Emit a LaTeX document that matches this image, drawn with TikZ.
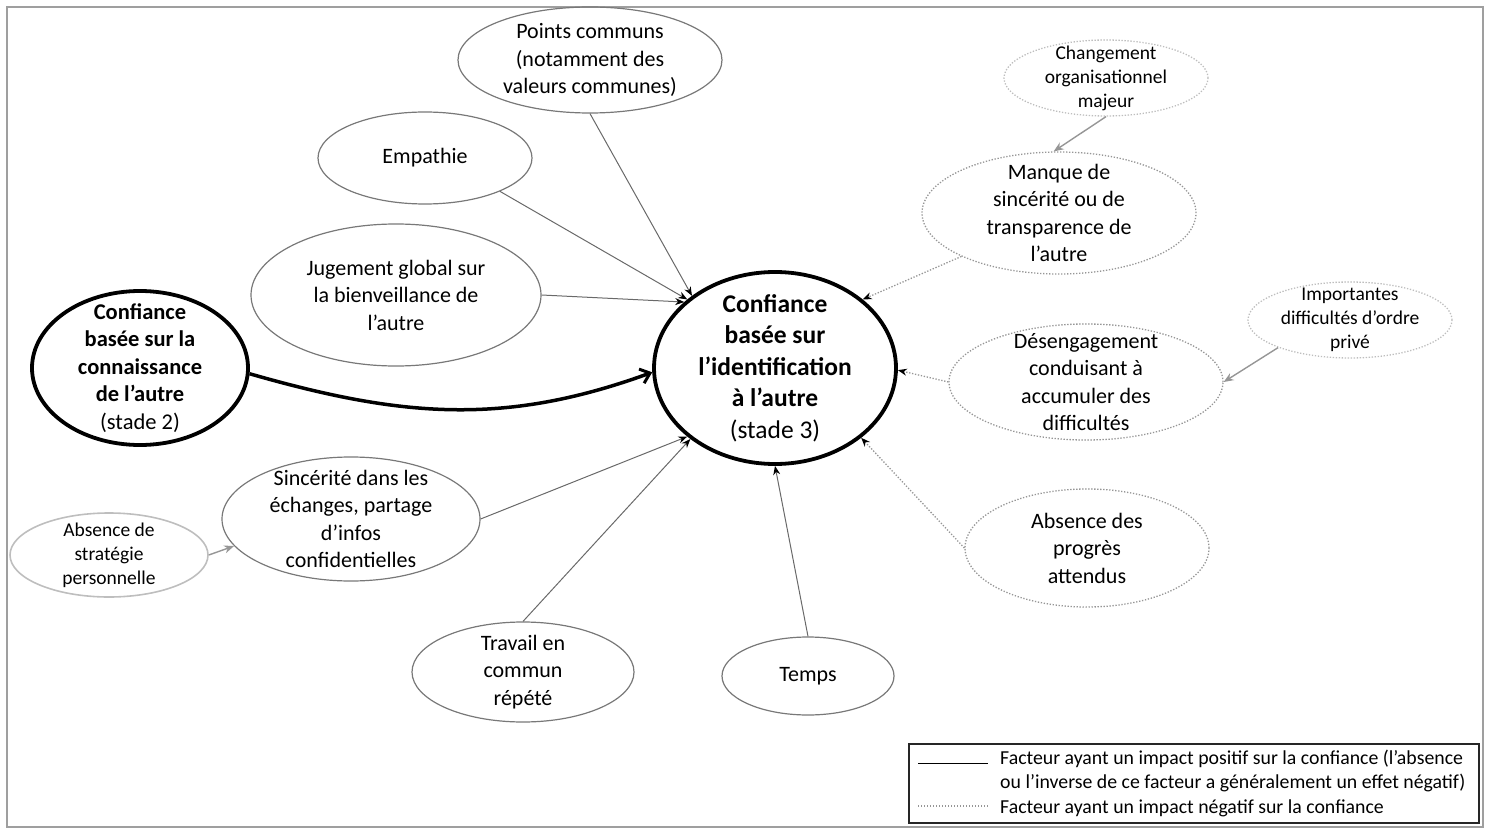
\documentclass[tikz,border=0pt]{standalone}
\usepackage{fontspec}
\setmainfont{Carlito}
\usetikzlibrary{shapes.geometric,arrows.meta}
\newcommand\fmed{\fontsize{22}{27.5}\selectfont}
\newcommand\fbig{\fontsize{25.5}{31.5}\selectfont}
\newcommand\fstwo{\fontsize{22.5}{27.5}\selectfont}
\newcommand\fsml{\fontsize{19.5}{24}\selectfont}
\newcommand\fleg{\fontsize{19.8}{24.5}\selectfont}
\definecolor{posgray}{RGB}{120,120,120}
\definecolor{linegray}{RGB}{105,105,105}
\definecolor{neggray}{RGB}{150,150,150}
\definecolor{lightgray2}{RGB}{190,190,190}
\begin{document}
\begin{tikzpicture}[x=1pt,y=-1pt,
  ell/.style={ellipse, inner sep=-60pt, align=center, text=black, font=\fmed},
  es/.style 2 args={minimum width=#1pt, minimum height=#2pt},
  posell/.style={ell, draw=posgray, line width=1.2pt},
  strongell/.style={ell, draw=black, line width=3.8pt},
  negell/.style={ell, draw=neggray, line width=1.3pt, dash pattern=on 1.3pt off 1.7pt},
  neglight/.style={ell, draw=lightgray2, line width=1.3pt, dash pattern=on 1.3pt off 1.7pt, font=\fsml},
  lightell/.style={ell, draw=lightgray2, line width=1.6pt, font=\fsml},
  posline/.style={draw=linegray, line width=1pt, -{Stealth[length=9pt,width=7pt,black]}},
  negline/.style={draw=neggray, line width=1.3pt, dash pattern=on 1.3pt off 1.7pt, -{Stealth[length=9pt,width=7pt,black]}},
  secline/.style={draw=neggray, line width=1.4pt, -{Stealth[length=10pt,width=8pt,neggray]}},
  thickline/.style={draw=black, line width=3.5pt, -{Straight Barb[length=9pt,width=15pt,line width=3pt]}},
  legtext/.style={anchor=base west, inner sep=0pt, font=\fleg, text=black}
]
\useasboundingbox (0,0) rectangle (1488,829);
\draw[gray!75, line width=2pt] (7,7) rectangle (1483,827);

% positive factors
\node[posell, es={264}{106}] (points) at (590,60) {Points communs\\(notamment des\\valeurs communes)};
\node[posell, es={214}{92}] (empathie) at (425,158) {Empathie};
\node[posell, es={290}{142}] (jugement) at (396,295) {Jugement global sur\\la bienveillance de\\l’autre};
\node[posell, es={258}{124}] (sincerite) at (351,519) {Sincérité dans les\\échanges, partage\\d’infos\\confidentielles};
\node[posell, es={222}{100}] (travail) at (523,672) {Travail en\\commun\\répété};
\node[posell, es={172}{78}] (temps) at (808,676) {Temps};
\node[lightell, es={198}{84}] (strategie) at (109,555) {Absence de\\stratégie\\personnelle};

% stages
\node[strongell, es={216}{154}, font=\fstwo] (stade2) at (140,368) {\textbf{Confiance}\\\textbf{basée sur la}\\\textbf{connaissance}\\\textbf{de l’autre}\\(stade 2)};
\node[strongell, es={242}{192}, font=\fbig] (stade3) at (775,368) {\textbf{Confiance}\\\textbf{basée sur}\\\textbf{l’identification}\\\textbf{à l’autre}\\(stade 3)};

% negative factors
\node[neglight, es={204}{76}] (changement) at (1106,78) {Changement\\organisationnel\\majeur};
\node[negell, es={274}{122}] (manque) at (1059,213) {Manque de\\sincérité ou de\\transparence de\\l’autre};
\node[neglight, es={204}{76}] (importantes) at (1350,320) {Importantes\\difficultés d’ordre\\privé};
\node[negell, es={274}{116}] (desengagement) at (1086,382) {Désengagement\\conduisant à\\accumuler des\\difficultés};
\node[negell, es={244}{118}] (progres) at (1087,548) {Absence des\\progrès\\attendus};

% connectors
\draw[thickline] (stade2.-3) to[out=-16, in=200] (stade3.182);
\draw[posline] (points.south) -- (stade3.139);
\draw[posline] (empathie.-24) -- (stade3.142);
\draw[posline] (jugement.east) -- (stade3.144);
\draw[posline] (sincerite.east) -- (stade3.218);
\draw[posline] (travail.north) -- (stade3.220);
\draw[posline] (temps.north) -- (stade3.south);
\draw[secline] (strategie.east) -- (sincerite.193);
\draw[negline] (manque.204) -- (stade3.38);
\draw[negline] (desengagement.west) -- (stade3.-1);
\draw[negline] (progres.west) -- (stade3.-39);
\draw[secline] (changement.south) -- (manque.95);
\draw[secline] (importantes.201) -- (desengagement.east);

% legend
\node[draw=black!85, line width=1.8pt, rectangle, inner sep=0pt, minimum width=570pt, minimum height=79pt, anchor=north west] (legend) at (908,743) {};
\coordinate (s1a) at (918,763);
\coordinate (s1b) at (988,763);
\coordinate (s2a) at (918,806);
\coordinate (s2b) at (988,806);
\draw[black, line width=1pt] (s1a) -- (s1b);
\draw[neggray, line width=1.3pt, dash pattern=on 1.3pt off 1.7pt] (s2a) -- (s2b);
\node[legtext] (leg1) at (1000,764) {Facteur ayant un impact positif sur la confiance (l’absence};
\node[legtext] (leg2) at (1000,788.5) {ou l’inverse de ce facteur a généralement un effet négatif)};
\node[legtext] (leg3) at (1000,813) {Facteur ayant un impact négatif sur la confiance};
\end{tikzpicture}
\end{document}
